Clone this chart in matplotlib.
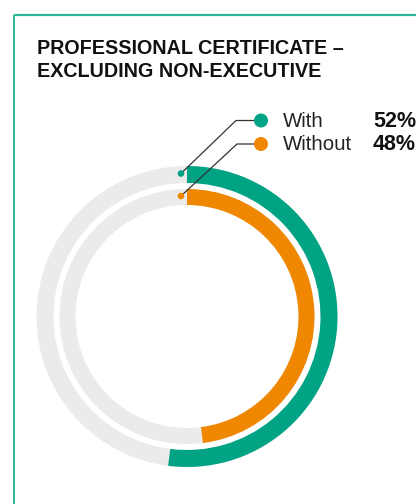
import matplotlib
matplotlib.use("Agg")
import matplotlib.pyplot as plt
from matplotlib.patches import Wedge, Circle

# ---- data ----
title_lines = ["PROFESSIONAL CERTIFICATE \u2013", "EXCLUDING NON-EXECUTIVE"]
categories = ["With", "Without"]
values = [52, 48]
colors = ["#00A383", "#F08700"]
track_color = "#EBEBEB"
frame_color = "#2DB89A"

W, H = 416, 504
fig = plt.figure(figsize=(W / 100, H / 100), dpi=100)
ax = fig.add_axes([0, 0, 1, 1])
ax.set_xlim(0, W)
ax.set_ylim(H, 0)
ax.set_aspect("equal")
ax.axis("off")

# frame (top & left edges of the panel)
ax.plot([14, W + 5], [15, 15], color=frame_color, lw=1.6, solid_capstyle="butt")
ax.plot([14, 14], [15, H + 5], color=frame_color, lw=1.4, solid_capstyle="butt")

# title
font = "Liberation Sans"
ax.text(37, 54, title_lines[0], fontsize=14.2, fontweight="bold", family=font,
        color="#111111", va="baseline", ha="left")
ax.text(37, 77, title_lines[1], fontsize=14.2, fontweight="bold", family=font,
        color="#111111", va="baseline", ha="left")

# rings (y axis inverted -> angles measured clockwise visually)
cx, cy = 187, 316.5
rings = [(150.5, 17.0), (127.5, 16.0)]
for (r, w), v, c in zip(rings, values, colors):
    ax.add_patch(Wedge((cx, cy), r, 0, 360, width=w, facecolor=track_color,
                       edgecolor="none"))
    ax.add_patch(Wedge((cx, cy), r, -90, -90 + 360 * v / 100, width=w,
                       facecolor=c, edgecolor="none"))

# legend with leader lines
leg_y = [120.5, 144]
leg_dot_x = 261
elbow_x = [236, 237]
for i, ((r, w), cat, v, c) in enumerate(zip(rings, categories, values, colors)):
    sy = cy - (r - w / 2) - 1
    sx = cx - 6
    ax.plot([sx, elbow_x[i], leg_dot_x], [sy, leg_y[i], leg_y[i]],
            color="#333333", lw=0.9, zorder=3)
    ax.add_patch(Circle((sx, sy), 3.3, facecolor=c, edgecolor="none", zorder=4))
    ax.add_patch(Circle((leg_dot_x, leg_y[i]), 7, facecolor=c, edgecolor="none",
                        zorder=4))
    ax.text(283, leg_y[i] + 6.5, cat, fontsize=14.7, family=font,
            color="#222222", va="baseline", ha="left")
    ax.text(373, leg_y[i] + 6.5, f"{v}%", fontsize=15.5, family=font,
            fontweight="bold", color="#111111", va="baseline", ha="left")

fig.savefig("out.png", dpi=100)
